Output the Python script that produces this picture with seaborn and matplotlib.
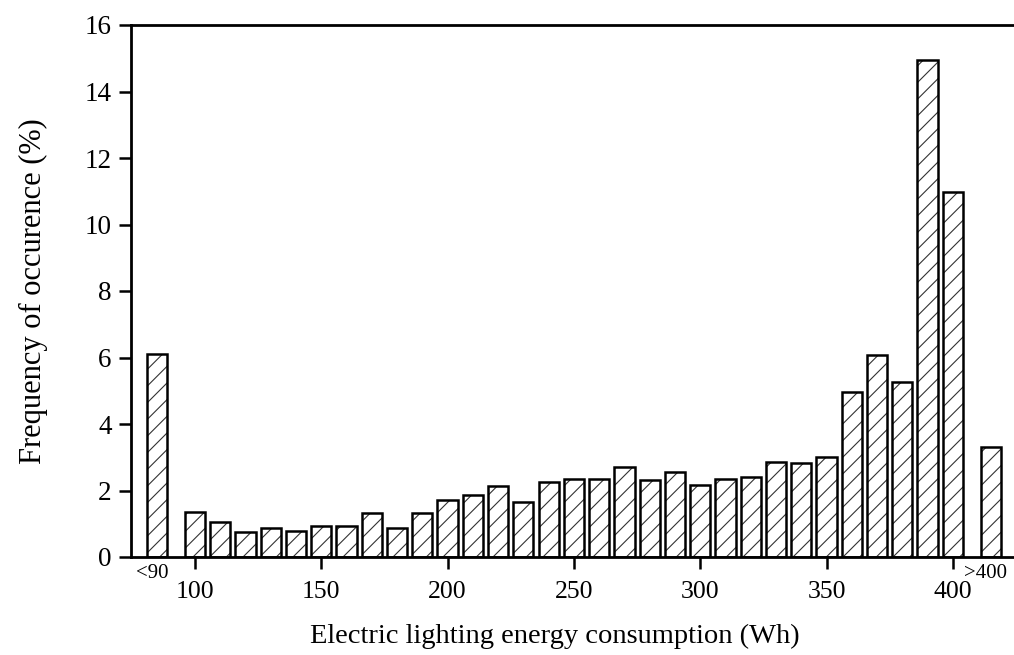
import matplotlib
matplotlib.use("Agg")
import matplotlib.pyplot as plt
import seaborn as sns
import pandas as pd

# Bin centres (Wh); 85 stands for the "<90" bin and 415 for the ">400" bin
bin_centres = [85] + list(range(100, 401, 10)) + [415]
frequency = [6.10,
             1.36, 1.05, 0.76, 0.87, 0.79, 0.94, 0.92, 1.31, 0.87, 1.33,
             1.71, 1.86, 2.15, 1.66, 2.26, 2.34, 2.34, 2.70, 2.32, 2.56,
             2.16, 2.34, 2.42, 2.86, 2.84, 3.00, 4.96, 6.08, 5.27, 14.96,
             10.98,
             3.31]
edge_label_positions = [83, 413]
edge_labels = ["<90", ">400"]
major_ticks = [100, 150, 200, 250, 300, 350, 400]
y_ticks = list(range(0, 17, 2))

df = pd.DataFrame({"energy": bin_centres, "freq": frequency})

sns.set_theme(style="ticks")
plt.rcParams["font.family"] = ["Liberation Serif", "DejaVu Serif"]
plt.rcParams["hatch.linewidth"] = 0.8
for key in ("text.color", "axes.labelcolor", "xtick.color", "ytick.color",
            "axes.edgecolor"):
    plt.rcParams[key] = "black"

fig = plt.figure(figsize=(10.14, 6.55), dpi=100)
ax = fig.add_axes([131 / 1014, 98 / 655, 885 / 1014, 532 / 655])

# grey diagonal hatching inside the bars
sns.barplot(data=df, x="energy", y="freq", native_scale=True, ax=ax,
            color="white", edgecolor="#333333", linewidth=0, width=0.8,
            errorbar=None, hatch="//", saturation=1)
# black bar outlines on top
sns.barplot(data=df, x="energy", y="freq", native_scale=True, ax=ax,
            fill=False, edgecolor="black", linewidth=1.8, width=0.8,
            errorbar=None, saturation=1)

ax.set_xlim(74.7, 425)
ax.set_ylim(0, 16)
ax.set_xticks(major_ticks)
ax.set_xticklabels([str(t) for t in major_ticks], fontsize=18.5)
ax.set_xticks(edge_label_positions, minor=True)
ax.set_xticklabels(edge_labels, minor=True, fontsize=15)
ax.tick_params(axis="x", which="minor", length=0, pad=5)
ax.tick_params(axis="x", which="major", length=8.5, width=1.8, pad=9)
ax.set_yticks(y_ticks)
ax.set_yticklabels([str(t) for t in y_ticks], fontsize=19.5)
ax.tick_params(axis="y", length=9, width=1.8, pad=5)

for side in ("left", "bottom", "top"):
    ax.spines[side].set_linewidth(2)
    ax.spines[side].set_color("black")
ax.spines["right"].set_visible(False)

ax.set_xlabel("Electric lighting energy consumption (Wh)", fontsize=20.5)
ax.xaxis.set_label_coords(0.479, -0.125)
ax.set_ylabel("Frequency of occurence (%)", fontsize=22, labelpad=26)

fig.savefig("out.png", dpi=100)
